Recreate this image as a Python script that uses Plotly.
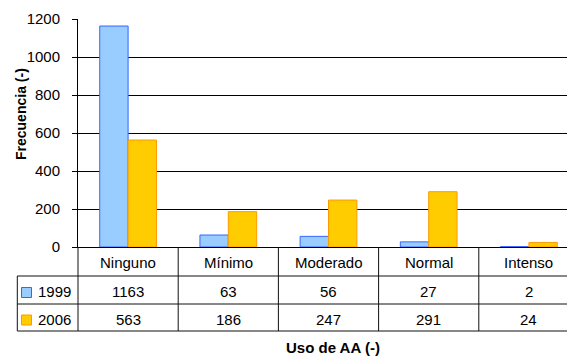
import plotly.graph_objects as go

# ---- data ----
categories = ["Ninguno", "Mínimo", "Moderado", "Normal", "Intenso"]
series_names = ["1999", "2006"]
freq_1999 = [1163, 63, 56, 27, 2]
freq_2006 = [563, 186, 247, 291, 24]
y_ticks = [0, 200, 400, 600, 800, 1000, 1200]

fills = ["#99CCFF", "#FFCC00"]
edges = ["#3366FF", "#FF9900"]

W, H = 567, 356
L, R, T, B = 78, 0, 19, 109
plot_w = W - L - R
plot_h = H - T - B
col_px = 100.2  # width of one category column in pixels
x_range = [-0.5, -0.5 + plot_w / col_px]


def px_x(p):
    return (p - L) / plot_w


def px_y(p):
    return (H - B - p) / plot_h


FONT = "Arial, Liberation Sans, sans-serif"

fig = go.Figure()
for name, vals, fc, ec in zip(series_names, [freq_1999, freq_2006], fills, edges):
    fig.add_trace(go.Bar(
        x=list(range(len(categories))), y=vals, name=name,
        marker=dict(color=fc, line=dict(color=ec, width=1)),
        showlegend=False,
    ))

shapes = []
line = dict(color="#111111", width=1)
# data table grid below the axis
row_lines = [276, 304, 331]
for yp in row_lines:
    shapes.append(dict(type="line", xref="paper", yref="paper",
                       x0=px_x(17.3), x1=1, y0=px_y(yp), y1=px_y(yp), line=line))
shapes.append(dict(type="line", xref="paper", yref="paper",
                   x0=px_x(17.3), x1=px_x(17.3), y0=px_y(276), y1=px_y(331), line=line))
shapes.append(dict(type="line", xref="paper", yref="paper",
                   x0=0, x1=0, y0=0, y1=px_y(331), line=line))
for k in range(len(categories) - 1):
    shapes.append(dict(type="line", xref="x", yref="paper",
                       x0=k + 0.5, x1=k + 0.5, y0=0, y1=px_y(331), line=line))

# legend keys inside the table
key_rows = [(287.5, 297.5), (315.0, 325.0)]
for (y0, y1), fc, ec in zip(key_rows, fills, edges):
    shapes.append(dict(type="rect", xref="paper", yref="paper",
                       x0=px_x(21.5), x1=px_x(31.5), y0=px_y(y1), y1=px_y(y0),
                       fillcolor=fc, line=dict(color=ec, width=1)))

annotations = []
txt = dict(family=FONT, size=15, color="#000000")
header_y, row_ys = 262, [291, 319]
for k, cat in enumerate(categories):
    annotations.append(dict(x=k, y=px_y(header_y), xref="x", yref="paper",
                            text=cat, showarrow=False, font=txt,
                            xanchor="center", yanchor="middle"))
    for ry, vals in zip(row_ys, [freq_1999, freq_2006]):
        annotations.append(dict(x=k, y=px_y(ry), xref="x", yref="paper",
                                text=str(vals[k]), showarrow=False, font=txt,
                                xanchor="center", yanchor="middle"))
for ry, name in zip(row_ys, series_names):
    annotations.append(dict(x=px_x(36), y=px_y(ry), xref="paper", yref="paper",
                            text=name, showarrow=False, font=txt,
                            xanchor="left", yanchor="middle"))

# axis titles
annotations.append(dict(x=px_x(21), y=px_y(114), xref="paper", yref="paper",
                        text="<b>Frecuencia (-)</b>", textangle=-90, showarrow=False,
                        font=dict(family=FONT, size=14, color="#000000"),
                        xanchor="center", yanchor="middle"))
annotations.append(dict(x=px_x(333), y=px_y(347), xref="paper", yref="paper",
                        text="<b>Uso de AA (-)</b>", showarrow=False,
                        font=dict(family=FONT, size=15, color="#000000"),
                        xanchor="center", yanchor="middle"))

fig.update_layout(
    width=W, height=H,
    margin=dict(l=L, r=R, t=T, b=B, pad=0),
    paper_bgcolor="white", plot_bgcolor="white",
    barmode="group", bargap=0.434, bargroupgap=0,
    font=dict(family=FONT, size=15, color="#000000"),
    shapes=shapes, annotations=annotations,
    xaxis=dict(range=x_range, showticklabels=False, ticks="", showgrid=False,
               showline=True, linecolor="#000000", linewidth=1, zeroline=False,
               fixedrange=True),
    yaxis=dict(range=[0, 1200], tickvals=y_ticks, ticks="outside", ticklen=5,
               tickcolor="#000000", showgrid=True, gridcolor="#000000", gridwidth=1,
               showline=True, linecolor="#000000", linewidth=1, zeroline=False,
               tickfont=dict(family=FONT, size=15, color="#000000"),
               ticklabelstandoff=9, fixedrange=True),
)

fig.write_html("out.html")
